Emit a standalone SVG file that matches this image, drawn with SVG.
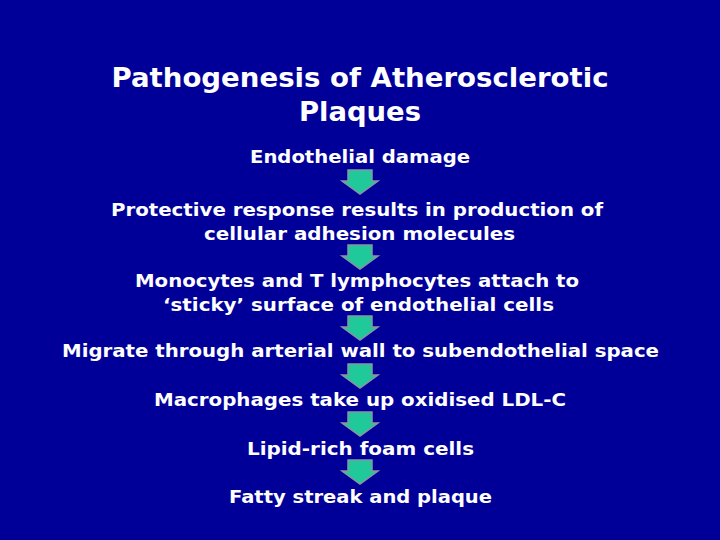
<svg xmlns="http://www.w3.org/2000/svg" width="720" height="540" viewBox="0 0 720 540">
<defs>
<style>
.bg{fill:#000099}
.title{font-family:"DejaVu Sans","Verdana",sans-serif;font-weight:bold;font-size:27px;fill:#ffffff;text-anchor:middle}
.step{font-family:"DejaVu Sans","Verdana",sans-serif;font-weight:bold;font-size:18px;fill:#ffffff;text-anchor:middle}
.arrow{fill:#1fc99a;stroke:#8a94a6;stroke-width:1.5;stroke-linejoin:miter}
</style>
<polygon id="arr" class="arrow" points="348,0 372,0 372,11 378,11 360,24 342,11 348,11"/>
</defs>
<rect class="bg" x="0" y="0" width="720" height="540"/>
<g id="title">
<text class="title" x="360" y="87" textLength="497" lengthAdjust="spacingAndGlyphs">Pathogenesis of Atherosclerotic</text>
<text class="title" x="360" y="121" textLength="122" lengthAdjust="spacingAndGlyphs">Plaques</text>
</g>
<g id="connectors">
<use href="#arr" x="0" y="170"/>
<use href="#arr" x="0" y="245"/>
<use href="#arr" x="0" y="316"/>
<use href="#arr" x="0" y="364"/>
<use href="#arr" x="0" y="412"/>
<use href="#arr" x="0" y="460"/>
</g>
<g id="node1"><text class="step" x="360" y="163" textLength="220" lengthAdjust="spacingAndGlyphs">Endothelial damage</text></g>
<g id="node2">
<text class="step" x="357" y="216" textLength="492" lengthAdjust="spacingAndGlyphs">Protective response results in production of</text>
<text class="step" x="359.5" y="240" textLength="311" lengthAdjust="spacingAndGlyphs">cellular adhesion molecules</text>
</g>
<g id="node3">
<text class="step" x="357" y="287" textLength="444" lengthAdjust="spacingAndGlyphs">Monocytes and T lymphocytes attach to</text>
<text class="step" x="358.5" y="311" textLength="391" lengthAdjust="spacingAndGlyphs">‘sticky’ surface of endothelial cells</text>
</g>
<g id="node4"><text class="step" x="360.5" y="357" textLength="597" lengthAdjust="spacingAndGlyphs">Migrate through arterial wall to subendothelial space</text></g>
<g id="node5"><text class="step" x="360" y="406" textLength="412" lengthAdjust="spacingAndGlyphs">Macrophages take up oxidised LDL-C</text></g>
<g id="node6"><text class="step" x="360.5" y="455" textLength="227" lengthAdjust="spacingAndGlyphs">Lipid-rich foam cells</text></g>
<g id="node7"><text class="step" x="360.5" y="503" textLength="263" lengthAdjust="spacingAndGlyphs">Fatty streak and plaque</text></g>
</svg>
